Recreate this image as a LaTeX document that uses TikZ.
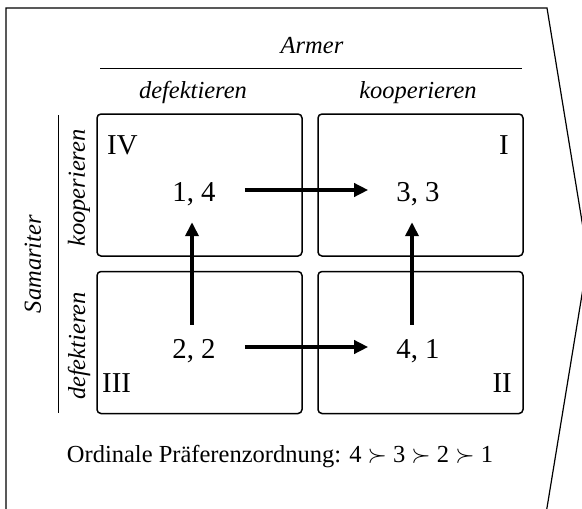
\documentclass[tikz,border=0pt]{standalone}
\usepackage{fontspec}
\setmainfont{Liberation Serif}
\usetikzlibrary{arrows.meta}
\tikzset{
  cell/.style={draw, line width=1.5pt, rounded corners=4pt, minimum width=205pt, minimum height=142pt, inner sep=0pt},
  numnode/.style={inner sep=0pt, text height=22pt, text depth=0pt, font=\fontsize{28.8}{34}\selectfont},
  roman/.style={inner sep=0pt, font=\fontsize{28.8}{34}\selectfont},
  lab/.style={inner sep=0pt, font=\fontsize{24.5}{29}\selectfont\itshape},
  movearrow/.style={line width=4pt, -{Triangle[length=14pt,width=13pt]}},
  frameline/.style={line width=1.2pt},
  ruleline/.style={line width=1pt}
}
\begin{document}
\begin{tikzpicture}[x=1pt,y=-1pt]
\useasboundingbox (0,0) rectangle (582,509);
% outer frame (arrow shaped, cropped)
\draw[frameline] (6,530) -- (6,8) -- (547,8) -- (588,258) -- (545,520);
% cells
\node[cell] (cIV) at (199.5,185) {};
\node[cell] (cI) at (420.5,185) {};
\node[cell] (cIII) at (199.5,342.5) {};
\node[cell] (cII) at (420.5,342.5) {};
% header
\coordinate (hl) at (100,68);
\coordinate (hr) at (522,68);
\draw[ruleline] (hl) -- (hr);
\node[lab, anchor=base] (armer) at (312,53) {Armer};
\node[lab, anchor=base] (hdef) at (193,98) {defektieren};
\node[lab, anchor=base] (hkoop) at (418,98) {kooperieren};
% left side
\coordinate (vt) at (58,115);
\coordinate (vb) at (58,413);
\draw[ruleline] (vt) -- (vb);
\node[lab, rotate=90] (sam) at (33,264) {Samariter};
\node[lab, rotate=90] (vkoop) at (79,188) {kooperieren};
\node[lab, rotate=90] (vdef) at (79,346) {defektieren};
% roman numerals
\node[roman, anchor=base west] (rIV) at (107,154) {IV};
\node[roman, anchor=base east] (rI) at (509,154) {I};
\node[roman, anchor=base west] (rIII) at (102,392) {III};
\node[roman, anchor=base east] (rII) at (512,392) {II};
% payoffs
\node[numnode, anchor=base] (n14) at (194,201) {1, 4};
\node[numnode, anchor=base] (n33) at (418,201) {3, 3};
\node[numnode, anchor=base] (n22) at (194,358) {2, 2};
\node[numnode, anchor=base] (n41) at (418,358) {4, 1};
% arrows
\draw[movearrow, shorten <=29pt, shorten >=28pt] (n14.east) -- (n33.west);
\draw[movearrow, shorten <=29pt, shorten >=28pt] (n22.east) -- (n41.west);
\draw[movearrow, shorten <=11pt, shorten >=21pt] ([xshift=-2pt]n22.north) -- ([xshift=-2pt]n14.south);
\draw[movearrow, shorten <=11pt, shorten >=21pt] ([xshift=-6pt]n41.north) -- ([xshift=-6pt]n33.south);
% bottom note
\node[inner sep=0pt, anchor=base, font=\fontsize{24.5}{29}\selectfont] (note) at (280,462) {Ordinale Präferenzordnung: 4 $\succ$ 3 $\succ$ 2 $\succ$ 1};
\end{tikzpicture}
\end{document}
